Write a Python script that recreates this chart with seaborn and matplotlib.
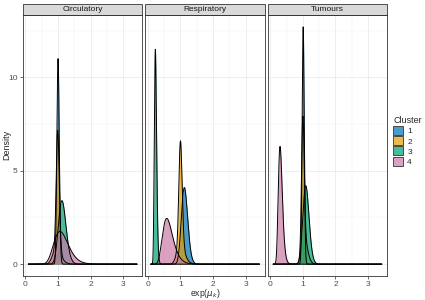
import numpy as np
import pandas as pd
import seaborn as sns
import matplotlib.pyplot as plt
from matplotlib.patches import Patch, Rectangle
from matplotlib.colors import to_rgb

panels = ['Circulatory', 'Respiratory', 'Tumours']
clusters = ['1', '2', '3', '4']
colores = ['#0072B2', '#E69F00', '#009E73', '#CC79A7']

# each curve = list of (mode, peak height, share of mass)
circulatory = [
    [(1.00, 11.0, 1.0)],
    [(0.99, 6.4, 0.75), (0.95, 0.8, 0.25)],
    [(1.12, 3.4, 1.0)],
    [(1.06, 1.75, 1.0)],
]
respiratory = [
    [(1.12, 4.1, 1.0)],
    [(1.00, 5.6, 0.7), (1.00, 1.0, 0.3)],
    [(0.23, 11.5, 1.0)],
    [(0.58, 2.45, 1.0)],
]
tumours = [
    [(1.01, 12.7, 1.0)],
    [(1.00, 6.8, 0.7), (1.05, 1.3, 0.3)],
    [(1.09, 4.2, 1.0)],
    [(0.30, 6.3, 1.0)],
]
curvas = {'Circulatory': circulatory, 'Respiratory': respiratory, 'Tumours': tumours}

x_min, x_max = 0.09, 3.42
xs = np.linspace(x_min, x_max, 2000)


def lognormal(moda, pico, masa):
    # log-sd that gives that peak height for a lognormal with that mode
    s = masa / (moda * pico * np.sqrt(2 * np.pi))
    for _ in range(50):
        s = masa * np.exp(-s**2 / 2) / (moda * pico * np.sqrt(2 * np.pi))
    mu = np.log(moda) + s**2
    return masa / (xs * s * np.sqrt(2 * np.pi)) * np.exp(-(np.log(xs) - mu)**2 / (2 * s**2))


filas = []
for p in panels:
    for c, comps in zip(clusters, curvas[p]):
        dens = sum(lognormal(*comp) for comp in comps)
        filas.append(pd.DataFrame({'panel': p, 'cluster': c, 'x': xs, 'density': dens}))
df = pd.concat(filas, ignore_index=True)

sns.set_theme(style='white')
plt.rcParams['font.family'] = ['Liberation Sans', 'DejaVu Sans']

fig, axes = plt.subplots(1, 3, figsize=(4.25, 3.0), dpi=100, sharey=True)
fig.subplots_adjust(left=0.054, right=0.911, bottom=0.08, top=0.95, wspace=0.025)

ymax = df['density'].max()
pad_x = (x_max - x_min) * 0.05
for ax, p in zip(axes, panels):
    sub = df[df['panel'] == p]
    ax.set_axisbelow(True)
    for c, col in zip(clusters, colores):
        d = sub[sub['cluster'] == c]
        ax.fill_between(d['x'], 0, d['density'], color=col, alpha=0.7, lw=0)
        sns.lineplot(data=d, x='x', y='density', color='black', lw=0.7, ax=ax,
                     estimator=None, sort=False)
    ax.set_xlim(x_min - pad_x, x_max + pad_x)
    ax.set_ylim(-ymax * 0.05, ymax * 1.05)
    ax.set_xticks([0, 1, 2, 3])
    ax.set_xticks([0.5, 1.5, 2.5], minor=True)
    ax.set_yticks([0, 5, 10])
    ax.set_yticks([2.5, 7.5, 12.5], minor=True)
    ax.grid(True, which='major', color='#EBEBEB', lw=0.6)
    ax.grid(True, which='minor', color='#F2F2F2', lw=0.35)
    for sp in ax.spines.values():
        sp.set_color('#333333')
        sp.set_linewidth(0.6)
    ax.tick_params(axis='both', which='major', labelsize=6, colors='#333333',
                   labelcolor='#4D4D4D', length=2.5, width=0.5, pad=1.2,
                   bottom=True, left=(ax is axes[0]))
    ax.tick_params(which='minor', length=0)
    ax.set_xlabel('')
    ax.set_ylabel('')
    # strip on top, ggplot style
    alto = 11 / 261
    ax.add_patch(Rectangle((0, 1), 1, alto, transform=ax.transAxes, clip_on=False,
                           facecolor='#D9D9D9', edgecolor='#333333', lw=0.6))
    ax.text(0.5, 1 + alto / 2, p, transform=ax.transAxes, ha='center', va='center',
            fontsize=6, color='#1A1A1A')

fig.text(7 / 425, 1 - 145 / 300, 'Density', rotation=90, ha='center', va='center',
         fontsize=6.5)
pos = axes[1].get_position()
fig.text(0.5 * (pos.x0 + pos.x1), 1 - 293.5 / 300, r'exp($\mu_k$)',
         ha='center', va='center', fontsize=6.2)

handles = [Patch(facecolor=(*to_rgb(c), 0.7), edgecolor='#333333', lw=0.6)
           for c in colores]
leg = fig.legend(handles, clusters, title='Cluster', loc='center left',
                 bbox_to_anchor=(0.918, 0.53), frameon=False, fontsize=6,
                 title_fontsize=6.5, handlelength=1.15, handleheight=1.25,
                 handletextpad=0.5, labelspacing=0.12, borderaxespad=0)
leg._legend_box.align = 'left'

fig.savefig('out.png', dpi=100)
